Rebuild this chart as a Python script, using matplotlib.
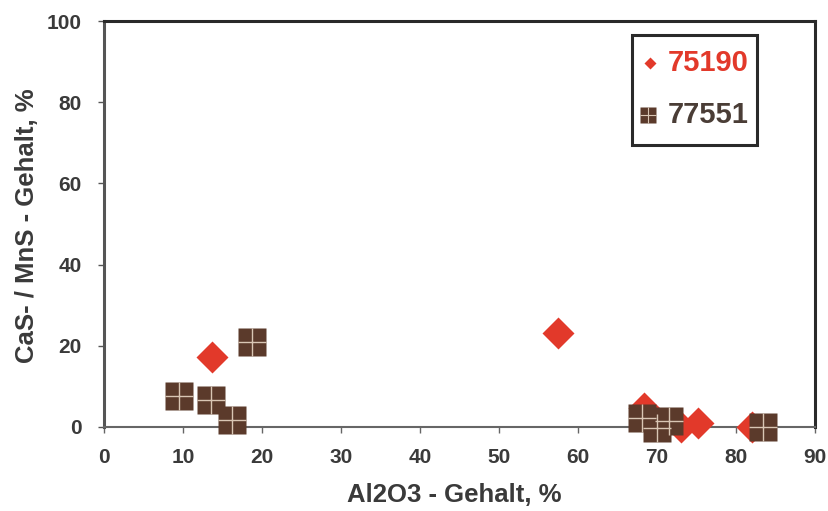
import matplotlib
matplotlib.use('Agg')
import matplotlib.pyplot as plt
from matplotlib.patches import Rectangle

plt.rcParams['font.family'] = ['Liberation Sans', 'DejaVu Sans']

# Probe 75190 (red diamonds)
x_75190 = [13.7, 57.5, 68.4, 73.0, 75.2, 82.0]
y_75190 = [17.2, 23.2, 4.7, 0.0, 1.0, 0.0]

# Probe 77551 (brown squares)
x_77551 = [9.5, 13.5, 16.2, 18.7, 68.1, 70.0, 71.5, 83.4]
y_77551 = [7.6, 6.6, 1.7, 20.9, 2.2, -0.2, 1.5, 0.0]

labels = ['75190', '77551']
red = '#e2392a'
brown = '#5b3a2b'
cross = '#d9c6b4'
txt = '#3a3a3a'

fig = plt.figure(figsize=(8.29, 5.11), dpi=100)
ax = fig.add_axes([0.1255, 0.1644, 0.8575, 0.7945])

ax.plot(x_75190, y_75190, 'D', ms=16, color=red, mec='none', clip_on=False, zorder=3)
ax.plot(x_77551, y_77551, 's', ms=19.5, color=brown, mec='none', clip_on=False, zorder=4)
ax.plot(x_77551, y_77551, '+', ms=19.5, color=cross, mew=1.0, clip_on=False, zorder=5)

ax.set_xlim(0, 90)
ax.set_ylim(0, 100)
ax.set_xticks(range(0, 91, 10))
ax.set_yticks(range(0, 101, 20))

for s in ['top', 'right']:
    ax.spines[s].set_color('#2a2a2a')
    ax.spines[s].set_linewidth(2.2)
ax.spines['left'].set_color('#555555')
ax.spines['left'].set_linewidth(2.2)
ax.spines['bottom'].set_color('#666666')
ax.spines['bottom'].set_linewidth(1.5)

ax.tick_params(axis='y', direction='out', length=4, width=1, color='#555555',
               pad=12, labelsize=15, labelcolor=txt)
ax.tick_params(axis='x', direction='out', length=4, width=1, color='#666666',
               pad=11, labelsize=15, labelcolor=txt)
for lab in ax.get_xticklabels() + ax.get_yticklabels():
    lab.set_fontweight('bold')

ax.set_xlabel('Al2O3 - Gehalt, %', fontsize=18.5, fontweight='bold', color=txt, va='center')
ax.set_ylabel('CaS- / MnS - Gehalt, %', fontsize=18.5, fontweight='bold', color=txt, va='center')
ax.xaxis.set_label_coords(0.492, -0.167)
ax.yaxis.set_label_coords(-0.108, 0.495)

# legend box drawn by hand to match the original layout
ax.add_patch(Rectangle((0.7426, 0.6946), 0.1758, 0.2709, transform=ax.transAxes,
                       facecolor='white', edgecolor='#2a2a2a', lw=2.2, zorder=6))
ax.plot([0.768], [0.8966], 'D', ms=6.2, color=red, mec='none',
        transform=ax.transAxes, zorder=7)
ax.plot([0.765], [0.7685], 's', ms=12, color=brown, mec='none',
        transform=ax.transAxes, zorder=7)
ax.plot([0.765], [0.7685], '+', ms=12, color=cross, mew=0.8,
        transform=ax.transAxes, zorder=8)
ax.text(0.793, 0.8966, labels[0], transform=ax.transAxes, fontsize=21,
        fontweight='bold', color=red, va='center', ha='left', zorder=8)
ax.text(0.793, 0.7685, labels[1], transform=ax.transAxes, fontsize=21,
        fontweight='bold', color='#4a3d36', va='center', ha='left', zorder=8)

fig.savefig('out.png', dpi=100)
